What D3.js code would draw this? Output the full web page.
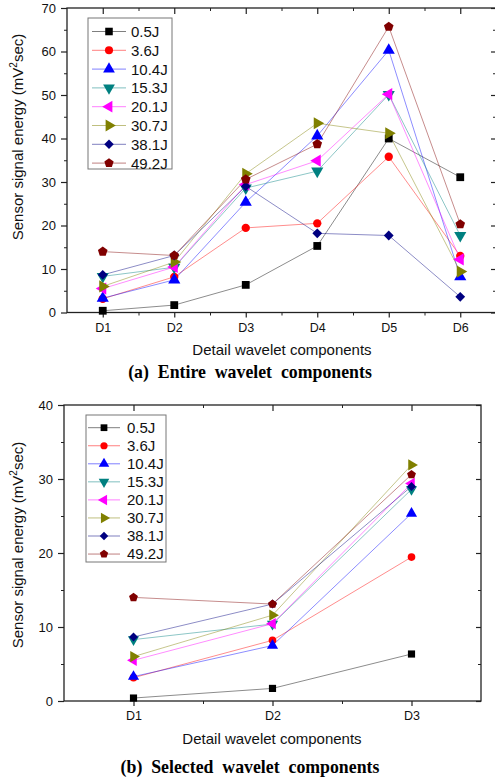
<!DOCTYPE html>
<html><head><meta charset="utf-8">
<script src="https://cdn.jsdelivr.net/npm/d3@7"></script>
<style>body{margin:0;background:#fff}svg{display:block}text{font-family:"Liberation Sans",Arial,sans-serif}text.cap{font-family:"Liberation Serif","Times New Roman",serif;font-weight:bold}</style>
</head><body><svg id="c" width="495" height="780"></svg>
<script>
const seriesNames = ["0.5J","3.6J","10.4J","15.3J","20.1J","30.7J","38.1J","49.2J"];
const seriesColors = ["#000000","#ff0000","#0000ff","#008080","#ff00ff","#808000","#000080","#800000"];
const seriesShapes = ["square","circle","up","down","left","right","diamond","pentagon"];
const categoriesA = ["D1","D2","D3","D4","D5","D6"];
const categoriesB = ["D1","D2","D3"];
const values = [
  [0.4, 1.7, 6.35, 15.3, 40.0, 31.1],
  [3.15, 8.2, 19.45, 20.5, 35.8, 13.0],
  [3.3, 7.5, 25.35, 40.6, 60.3, 8.2],
  [8.3, 10.4, 28.6, 32.5, 50.1, 17.7],
  [5.5, 10.45, 29.4, 34.9, 50.2, 12.2],
  [6.0, 11.6, 31.9, 43.5, 41.2, 9.4],
  [8.65, 13.1, 29.0, 18.2, 17.7, 3.6],
  [14.0, 13.1, 30.6, 38.7, 65.7, 20.3]
];
const yTicksA = [0,10,20,30,40,50,60,70];
const yTicksB = [0,10,20,30,40];

const svg = d3.select("#c");

const pentagon = {draw(ctx, size){
  const r = Math.sqrt(size/2.38);
  for(let i=0;i<5;i++){
    const a = -Math.PI/2 + i*2*Math.PI/5;
    const x = r*Math.cos(a), y = r*Math.sin(a);
    if(i===0) ctx.moveTo(x,y); else ctx.lineTo(x,y);
  }
  ctx.closePath();
}};
function symbolPath(shape, s){
  switch(shape){
    case "square": return {d:d3.symbol(d3.symbolSquare, s*0.95)(), rot:0};
    case "circle": return {d:d3.symbol(d3.symbolCircle, s*0.85)(), rot:0};
    case "up": return {d:d3.symbol(d3.symbolTriangle, s)(), rot:0};
    case "down": return {d:d3.symbol(d3.symbolTriangle, s)(), rot:180};
    case "left": return {d:d3.symbol(d3.symbolTriangle, s)(), rot:-90};
    case "right": return {d:d3.symbol(d3.symbolTriangle, s)(), rot:90};
    case "diamond": return {d:d3.symbol(d3.symbolSquare, s*0.75)(), rot:45};
    case "pentagon": return {d:d3.symbol(pentagon, s*0.95)(), rot:0};
  }
}

function drawChart(cfg){
  const g = svg.append("g");
  const x = d3.scaleLinear().domain([0.5, cfg.cats.length+0.5]).range([cfg.left, cfg.right]);
  const y = d3.scaleLinear().domain([0, cfg.ymax]).range([cfg.bottom, cfg.top]);
  const majorX = d3.range(1, cfg.cats.length+1);
  const minorX = d3.range(1.5, cfg.cats.length+0.5, 1);
  const majorY = cfg.yticks;
  const minorY = d3.range(5, cfg.ymax, 10);

  g.append("rect").attr("x",cfg.left).attr("y",cfg.top).attr("width",cfg.right-cfg.left).attr("height",cfg.bottom-cfg.top)
    .attr("fill","none").attr("stroke","#222").attr("stroke-width",1.3);

  const bx = g.append("g").attr("transform",`translate(0,${cfg.bottom})`)
    .call(d3.axisBottom(x).tickValues(majorX).tickSize(5).tickFormat(d=>cfg.cats[d-1]));
  bx.select(".domain").remove();
  bx.selectAll("text").attr("font-size",12.5).attr("fill","#111").attr("dy","0.9em");
  bx.selectAll("line").attr("stroke","#222").attr("stroke-width",1.2);
  g.append("g").attr("transform",`translate(0,${cfg.bottom})`)
    .call(d3.axisBottom(x).tickValues(minorX).tickSize(3).tickFormat(""))
    .call(a=>{a.select(".domain").remove();a.selectAll("line").attr("stroke","#222");});
  g.append("g").attr("transform",`translate(0,${cfg.top})`)
    .call(d3.axisBottom(x).tickValues(majorX).tickSize(6).tickFormat(""))
    .call(a=>{a.select(".domain").remove();a.selectAll("line").attr("stroke","#222").attr("stroke-width",1.2);});
  g.append("g").attr("transform",`translate(0,${cfg.top})`)
    .call(d3.axisBottom(x).tickValues(minorX).tickSize(3).tickFormat(""))
    .call(a=>{a.select(".domain").remove();a.selectAll("line").attr("stroke","#222");});

  const ly = g.append("g").attr("transform",`translate(${cfg.left},0)`)
    .call(d3.axisLeft(y).tickValues(majorY).tickSize(6).tickPadding(5));
  ly.select(".domain").remove();
  ly.selectAll("text").attr("font-size",13).attr("fill","#111");
  ly.selectAll("line").attr("stroke","#222").attr("stroke-width",1.2);
  g.append("g").attr("transform",`translate(${cfg.left},0)`)
    .call(d3.axisLeft(y).tickValues(minorY).tickSize(3).tickFormat(""))
    .call(a=>{a.select(".domain").remove();a.selectAll("line").attr("stroke","#222");});
  g.append("g").attr("transform",`translate(${cfg.right},0)`)
    .call(d3.axisLeft(y).tickValues(majorY).tickSize(5).tickFormat(""))
    .call(a=>{a.select(".domain").remove();a.selectAll("line").attr("stroke","#222").attr("stroke-width",1.2);});
  g.append("g").attr("transform",`translate(${cfg.right},0)`)
    .call(d3.axisLeft(y).tickValues(minorY).tickSize(3).tickFormat(""))
    .call(a=>{a.select(".domain").remove();a.selectAll("line").attr("stroke","#222");});

  const line = d3.line().x((d,i)=>x(i+1)).y(d=>y(d));
  seriesNames.forEach((n,si)=>{
    const vals = values[si].slice(0, cfg.cats.length);
    g.append("path").datum(vals).attr("d",line).attr("fill","none")
      .attr("stroke",seriesColors[si]).attr("stroke-opacity",0.45).attr("stroke-width",1);
  });
  seriesNames.forEach((n,si)=>{
    const vals = values[si].slice(0, cfg.cats.length);
    const sp = symbolPath(seriesShapes[si], cfg.msize);
    g.selectAll(null).data(vals).join("path")
      .attr("d",sp.d).attr("fill",seriesColors[si])
      .attr("transform",(d,i)=>`translate(${x(i+1)},${y(d)}) rotate(${sp.rot})`);
  });

  const lg = g.append("g");
  lg.append("rect").attr("x",cfg.leg.x).attr("y",cfg.leg.y).attr("width",cfg.leg.w).attr("height",cfg.leg.h)
    .attr("fill","#fff").attr("stroke","#777").attr("stroke-width",1);
  seriesNames.forEach((n,si)=>{
    const yy = cfg.leg.y0 + si*cfg.leg.dy;
    lg.append("line").attr("x1",cfg.leg.lx1).attr("x2",cfg.leg.lx2).attr("y1",yy).attr("y2",yy)
      .attr("stroke",seriesColors[si]).attr("stroke-opacity",0.5).attr("stroke-width",1);
    const sp = symbolPath(seriesShapes[si], cfg.lmsize);
    lg.append("path").attr("d",sp.d).attr("fill",seriesColors[si])
      .attr("transform",`translate(${(cfg.leg.lx1+cfg.leg.lx2)/2},${yy}) rotate(${sp.rot})`);
    lg.append("text").attr("x",cfg.leg.tx).attr("y",yy).attr("dy","0.36em")
      .attr("font-size",cfg.leg.fs).attr("fill","#111").text(n);
  });

  const yt = g.append("text").attr("transform",`translate(${cfg.ytx},${cfg.yty}) rotate(-90)`)
    .attr("text-anchor","middle").attr("font-size",15).attr("fill","#111");
  yt.append("tspan").text("Sensor signal energy (mV");
  yt.append("tspan").attr("font-size",10).attr("dy",-6).text("2");
  yt.append("tspan").attr("dy",6).text("sec)");

  g.append("text").attr("x",cfg.xtx).attr("y",cfg.xty).attr("text-anchor","middle")
    .attr("font-size",15).attr("fill","#111").text("Detail wavelet components");
  g.append("text").attr("class","cap").attr("x",250).attr("y",cfg.capy).attr("text-anchor","middle")
    .attr("font-size",17.8).attr("fill","#000").style("white-space","pre").text(cfg.caption);
}

drawChart({cats:categoriesA, left:67, right:496, top:8, bottom:312.5, ymax:70, yticks:yTicksA, msize:64, lmsize:60,
  leg:{x:88,y:18,w:84,h:151,y0:31.5,dy:18.8,lx1:92,lx2:126,tx:131,fs:15},
  ytx:23, yty:137, xtx:282, xty:355, capy:378, caption:"(a)  Entire  wavelet  components"});
drawChart({cats:categoriesB, left:64, right:481, top:405, bottom:701, ymax:40, yticks:yTicksB, msize:54, lmsize:48,
  leg:{x:86,y:415,w:80,h:147,y0:427.7,dy:18.05,lx1:88,lx2:120,tx:127,fs:15},
  ytx:23, yty:545, xtx:272, xty:744, capy:773, caption:"(b)  Selected  wavelet  components"});
</script></body></html>
